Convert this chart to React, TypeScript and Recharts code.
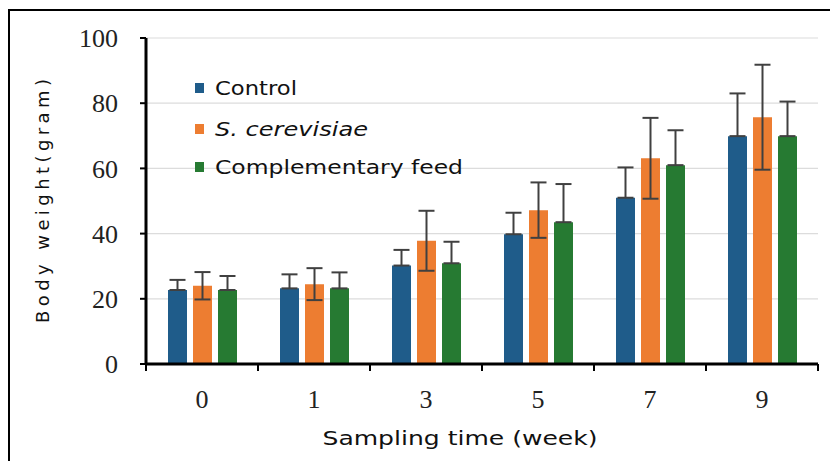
import React from 'react';
import { BarChart, Bar, XAxis, YAxis, CartesianGrid, Legend, ErrorBar, Label } from 'recharts';

const weeks = ['0', '1', '3', '5', '7', '9'];
const control = [22.7, 23.2, 30.2, 39.8, 51.0, 69.9];
const controlErr = [3.1, 4.3, 4.8, 6.6, 9.3, 13.1];
const cerevisiae = [24.0, 24.5, 37.8, 47.2, 63.1, 75.7];
const cerevisiaeErr = [4.2, 4.9, 9.2, 8.5, 12.4, 16.1];
const complementary = [22.7, 23.2, 30.9, 43.5, 61.0, 69.9];
const complementaryErr = [4.3, 4.9, 6.6, 11.7, 10.7, 10.6];
const yTicks = [0, 20, 40, 60, 80, 100];
const seriesNames = ['Control', 'S. cerevisiae', 'Complementary feed'];
const xTitle = 'Sampling time (week)';
const yTitle = 'Body weight(gram)';

const COLORS = ['#1F5C8A', '#ED7D31', '#267A32'];
const ERR = '#404040';
const SANS = '"DejaVu Sans", Verdana, sans-serif';
const SERIF = '"Liberation Serif", "Times New Roman", serif';

const data = weeks.map((w, i) => ({
  week: w,
  control: control[i],
  controlErr: [0, controlErr[i]],
  cerevisiae: cerevisiae[i],
  cerevisiaeErr: cerevisiaeErr[i],
  complementary: complementary[i],
  complementaryErr: [0, complementaryErr[i]],
}));

const XTick = (props: any) => {
  const { x, y, payload, index, visibleTicksCount } = props;
  const half = payload && typeof payload.offset === 'number' ? payload.offset : 0;
  const axisY = y - 26;
  const isLast = index === (visibleTicksCount ?? weeks.length) - 1;
  return (
    <g>
      <text x={x} y={y} dy="0.71em" textAnchor="middle" fontFamily={SERIF} fontSize={26} fill="#222">
        {payload.value}
      </text>
      {half > 0 && <line x1={x - half} x2={x - half} y1={axisY} y2={axisY + 7} stroke="#000" strokeWidth={2} />}
      {half > 0 && isLast && <line x1={x + half} x2={x + half} y1={axisY} y2={axisY + 7} stroke="#000" strokeWidth={2} />}
    </g>
  );
};

const LegendContent = () => {
  const lens = [82, 153, 248];
  const centers = [13, 54, 92];
  return (
    <svg width={300} height={115} style={{ display: 'block' }}>
      {seriesNames.map((name, i) => (
        <g key={name}>
          <rect x={5} y={centers[i] - 5} width={9} height={10} fill={COLORS[i]} />
          <text
            x={25}
            y={centers[i] + 7}
            fontFamily={SANS}
            fontSize={19}
            fontStyle={i === 1 ? 'italic' : 'normal'}
            fill="#111"
            textLength={lens[i]}
            lengthAdjust="spacingAndGlyphs"
          >
            {name}
          </text>
        </g>
      ))}
    </svg>
  );
};

const XTitle = (props: any) => {
  const vb = props.viewBox || { x: 0, y: 0, width: 0, height: 0 };
  return (
    <text
      x={vb.x + vb.width / 2 - 22}
      y={vb.y + 81}
      textAnchor="middle"
      fontFamily={SANS}
      fontSize={20}
      fill="#111"
      textLength={275}
      lengthAdjust="spacingAndGlyphs"
    >
      {xTitle}
    </text>
  );
};

const YTitle = (props: any) => {
  const vb = props.viewBox || { x: 0, y: 0, width: 0, height: 0 };
  const cx = vb.x + 42;
  const cy = vb.y + vb.height / 2;
  return (
    <text
      x={cx}
      y={cy}
      transform={`rotate(-90, ${cx}, ${cy})`}
      textAnchor="middle"
      dominantBaseline="central"
      fontFamily={SANS}
      fontSize={18}
      fill="#111"
      textLength={244}
      lengthAdjust="spacing"
    >
      {yTitle}
    </text>
  );
};

export default function App() {
  return (
    <div style={{ position: 'relative', width: 830, height: 461, overflow: 'hidden', background: '#fff' }}>
      <style>{'html,body{margin:0;padding:0;overflow:hidden;background:#fff}'}</style>
      <div
        style={{
          position: 'absolute',
          left: 8,
          top: 9,
          width: 830,
          height: 470,
          borderTop: '2px solid #000',
          borderLeft: '2px solid #000',
          boxSizing: 'border-box',
        }}
      />
      <div style={{ position: 'absolute', left: 0, top: 0 }}>
        <BarChart
          width={830}
          height={461}
          data={data}
          margin={{ top: 38, right: 12, bottom: 0, left: 0 }}
          barSize={19}
          barGap={6}
        >
          <CartesianGrid vertical={false} stroke="#dcdcdc" strokeWidth={1.2} />
          <XAxis
            dataKey="week"
            height={97}
            axisLine={{ stroke: '#000', strokeWidth: 3 }}
            tickLine={false}
            tickSize={0}
            tickMargin={26}
            tick={<XTick />}
            interval={0}
          >
            <Label content={<XTitle />} />
          </XAxis>
          <YAxis
            width={146}
            domain={[0, 100]}
            ticks={yTicks}
            interval={0}
            axisLine={{ stroke: '#000', strokeWidth: 3 }}
            tickLine={{ stroke: '#000', strokeWidth: 2 }}
            tickSize={6}
            tickMargin={22}
            tick={{ fontFamily: SERIF, fontSize: 26, fill: '#222' }}
          >
            <Label content={<YTitle />} />
          </YAxis>
          <Legend
            layout="vertical"
            align="center"
            verticalAlign="middle"
            content={<LegendContent />}
            wrapperStyle={{ left: 190, top: 75, width: 300, height: 115 }}
          />
          <Bar dataKey="control" name={seriesNames[0]} fill={COLORS[0]} isAnimationActive={false}>
            <ErrorBar dataKey="controlErr" width={8} stroke={ERR} strokeWidth={2} direction="y" isAnimationActive={false} />
          </Bar>
          <Bar dataKey="cerevisiae" name={seriesNames[1]} fill={COLORS[1]} isAnimationActive={false}>
            <ErrorBar dataKey="cerevisiaeErr" width={8} stroke={ERR} strokeWidth={2} direction="y" isAnimationActive={false} />
          </Bar>
          <Bar dataKey="complementary" name={seriesNames[2]} fill={COLORS[2]} isAnimationActive={false}>
            <ErrorBar dataKey="complementaryErr" width={8} stroke={ERR} strokeWidth={2} direction="y" isAnimationActive={false} />
          </Bar>
        </BarChart>
      </div>
    </div>
  );
}
